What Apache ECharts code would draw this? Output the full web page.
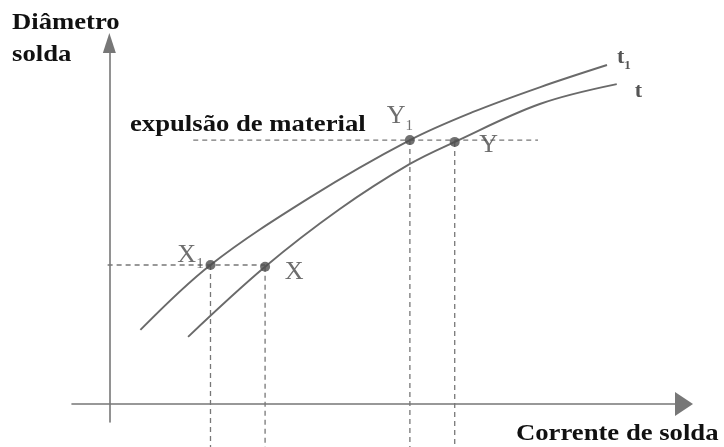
<!DOCTYPE html>
<html>
<head>
<meta charset="utf-8">
<script src="https://cdn.jsdelivr.net/npm/echarts@6/dist/echarts.min.js"></script>
<style>
    html, body { margin: 0; padding: 0; background: #fff; }
    #main { width: 724px; height: 447px; }
</style>
</head>
<body>
<div id="main"></div>
<script>
// curvas diâmetro x corrente (unidades arbitrárias)
var curvaT1 = [[5.4, 20.5], [17.6, 38.5], [35.0, 57.3], [52.3, 73.1], [63.3, 80.9], [75.0, 87.8], [86.6, 93.9]];
var curvaT = [[13.7, 18.6], [27.1, 38.0], [40.1, 54.0], [52.3, 66.5], [60.1, 72.6], [74.9, 83.1], [88.3, 88.6]];
// pontos marcados
var pontosNome = ['X', 'X', 'Y', 'Y'];
var pontosSub = ['1', '', '1', ''];
var pontos = [[17.6, 38.5], [27.1, 38.0], [52.3, 73.1], [60.1, 72.6]];
// linhas tracejadas
var nivelX = 38.5;
var nivelExpulsao = 73.1;
var expulsaoInicio = 14.6, expulsaoFim = 74.6;
var baseTracejado = -12;

(function() {
    var myChart = echarts.init(document.getElementById('main'));

    var cinza = '#6a6a6a';
    var serif = 'Liberation Serif';

    var richLabel = {
        m: { fontFamily: serif, fontSize: 26, color: '#4a4a4a' },
        s: { fontFamily: serif, fontSize: 15, color: '#4a4a4a', verticalAlign: 'bottom', padding: [0, 0, -4, 0] }
    };

    //deslocamento dos rótulos dos pontos
    var rotuloDesloc = [[-20, -10], [29, 5], [-10, -24], [34, 3]];

    function tracejado(a, b) {
        return {
            type: 'line',
            data: [a, b],
            symbol: 'none',
            silent: true,
            clip: false,
            z: 1,
            lineStyle: { color: '#777', width: 1.3, type: [5, 4] }
        };
    }

    var series = [];
    // horizontal de X1 até X
    series.push(tracejado([-0.3, nivelX], [pontos[1][0], nivelX]));
    // expulsão de material
    series.push(tracejado([expulsaoInicio, nivelExpulsao], [expulsaoFim, nivelExpulsao]));
    // verticais
    pontos.forEach(function(p) {
        series.push(tracejado([p[0], p[1]], [p[0], baseTracejado]));
    });

    series.push({
        type: 'line',
        data: curvaT1,
        smooth: 0.35,
        symbol: 'none',
        z: 3,
        lineStyle: { color: cinza, width: 1.9 },
        endLabel: {
            show: true,
            formatter: '{m|t}{s|1}',
            offset: [2, -8],
            rich: {
                m: { fontFamily: serif, fontSize: 22, fontWeight: 'bold', color: '#555' },
                s: { fontFamily: serif, fontSize: 13, fontWeight: 'bold', color: '#555', verticalAlign: 'bottom', padding: [0, 0, -4, 0] }
            }
        }
    });
    series.push({
        type: 'line',
        data: curvaT,
        smooth: 0.35,
        symbol: 'none',
        z: 3,
        lineStyle: { color: cinza, width: 1.9 },
        endLabel: {
            show: true,
            formatter: '{m|t}',
            offset: [10, 7],
            rich: {
                m: { fontFamily: serif, fontSize: 22, fontWeight: 'bold', color: '#555' }
            }
        }
    });

    series.push({
        type: 'scatter',
        symbolSize: 10,
        z: 5,
        itemStyle: { color: '#4d4d4d' },
        data: pontos.map(function(p, i) {
            return {
                value: p,
                label: {
                    show: true,
                    position: 'inside',
                    offset: rotuloDesloc[i],
                    formatter: '{m|' + pontosNome[i] + '}' + (pontosSub[i] ? '{s|' + pontosSub[i] + '}' : ''),
                    rich: richLabel
                }
            };
        })
    });

    function titulo(texto, x, y) {
        return {
            type: 'text',
            x: x,
            y: y,
            scaleX: 1.16,
            style: {
                text: texto,
                fontFamily: serif,
                fontWeight: 'bold',
                fontSize: 23,
                fill: '#111',
                align: 'left',
                verticalAlign: 'bottom'
            }
        };
    }

    var option = {
        animation: false,
        backgroundColor: '#fff',
        grid: { left: 72, right: 40, top: 43, bottom: 25 },
        xAxis: {
            type: 'value',
            min: -6.5,
            max: 100,
            splitLine: { show: false },
            axisTick: { show: false },
            axisLabel: { show: false },
            axisLine: {
                onZero: true,
                symbol: ['none', 'triangle'],
                symbolSize: [24, 18],
                lineStyle: { color: '#777', width: 1.6 }
            }
        },
        yAxis: {
            type: 'value',
            min: -5,
            max: 100,
            splitLine: { show: false },
            axisTick: { show: false },
            axisLabel: { show: false },
            axisLine: {
                onZero: true,
                symbol: ['none', 'triangle'],
                symbolSize: [13, 20],
                lineStyle: { color: '#777', width: 1.6 }
            }
        },
        graphic: [
            titulo('Diâmetro', 12, 35),
            titulo('solda', 12, 67),
            titulo('expulsão de material', 130, 137),
            titulo('Corrente de solda', 516, 446)
        ],
        series: series
    };

    myChart.setOption(option);
})();
</script>
</body>
</html>
